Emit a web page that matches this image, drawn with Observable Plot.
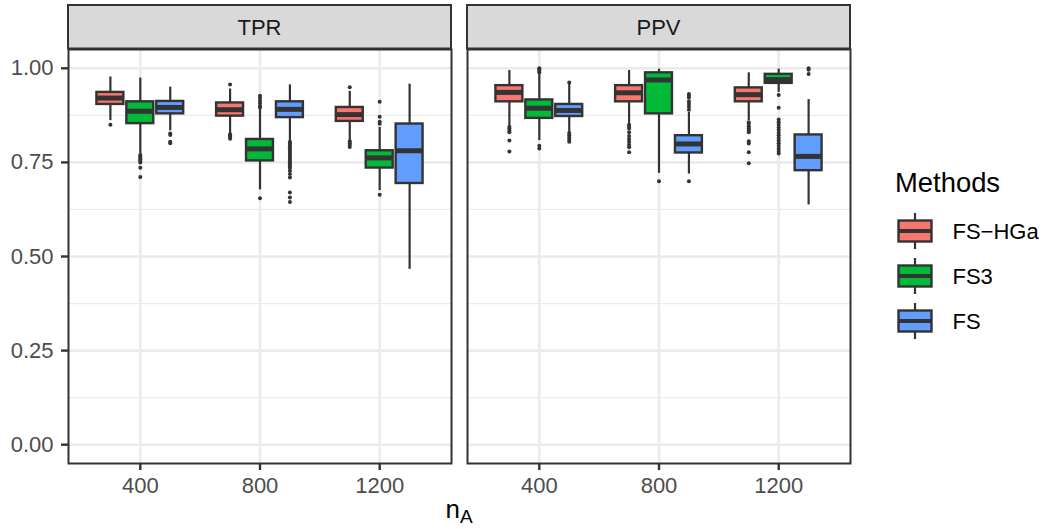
<!DOCTYPE html>
<html>
<head>
<meta charset="utf-8">
<script src="https://cdn.jsdelivr.net/npm/d3@7"></script>
<script src="https://cdn.jsdelivr.net/npm/@observablehq/plot@0.6"></script>
<style>
  html, body { margin: 0; padding: 0; background: #fff; }
  #wrap { position: relative; width: 1046px; height: 529px; font-family: "Liberation Sans", Arial, Helvetica, sans-serif; }
  #wrap svg { display: block; }
  #legend { position: absolute; left: 0; top: 0; pointer-events: none; }
</style>
</head>
<body>
<div id="wrap"></div>
<script>
// ---- data ----
const panels = ["TPR", "PPV"];
const sizes = ["400", "800", "1200"];
const methods = ["FS-HGa", "FS3", "FS"];
const methodLabels = ["FS\u2212HGa", "FS3", "FS"];
const colors = ["#F8766D", "#00BA38", "#619CFF"];
const yTicks = [0, 0.25, 0.5, 0.75, 1];
const yMinor = [0.125, 0.375, 0.625, 0.875];
const yTickLabels = ["0.00", "0.25", "0.50", "0.75", "1.00"];

// order: 400(FS-HGa, FS3, FS), 800(...), 1200(...)
const tprLow  = [0.861, 0.772, 0.834, 0.826, 0.677, 0.808, 0.808, 0.675, 0.466];
const tprQ1   = [0.904, 0.853, 0.879, 0.873, 0.754, 0.869, 0.859, 0.735, 0.694];
const tprMed  = [0.921, 0.886, 0.896, 0.890, 0.786, 0.891, 0.877, 0.762, 0.781];
const tprQ3   = [0.936, 0.911, 0.912, 0.908, 0.811, 0.911, 0.896, 0.781, 0.852];
const tprHigh = [0.977, 0.974, 0.950, 0.945, 0.892, 0.956, 0.939, 0.843, 0.958];

const ppvLow  = [0.848, 0.808, 0.830, 0.852, 0.721, 0.719, 0.861, 0.936, 0.637];
const ppvQ1   = [0.911, 0.867, 0.872, 0.911, 0.879, 0.775, 0.911, 0.960, 0.728];
const ppvMed  = [0.936, 0.894, 0.888, 0.935, 0.969, 0.799, 0.930, 0.970, 0.766];
const ppvQ3   = [0.954, 0.916, 0.904, 0.954, 0.988, 0.821, 0.948, 0.984, 0.823];
const ppvHigh = [0.994, 0.985, 0.958, 0.994, 0.998, 0.883, 0.988, 0.998, 0.917];

const tprOutliers = [
  [0.850],
  [0.770, 0.766, 0.762, 0.758, 0.754, 0.750, 0.736, 0.711],
  [0.827, 0.823, 0.805, 0.801],
  [0.957, 0.825, 0.821, 0.817, 0.813],
  [0.927, 0.921, 0.914, 0.907, 0.900, 0.896, 0.655],
  [0.805, 0.800, 0.795, 0.790, 0.785, 0.780, 0.775, 0.770, 0.765, 0.760, 0.755, 0.750, 0.745, 0.740, 0.735, 0.728, 0.719, 0.710, 0.670, 0.657, 0.645],
  [0.950, 0.806, 0.801, 0.796, 0.791],
  [0.911, 0.871, 0.858, 0.853, 0.664],
  []
];
const ppvOutliers = [
  [0.845, 0.840, 0.835, 0.830, 0.808, 0.779],
  [1.000, 0.997, 0.993, 0.989, 0.794, 0.787],
  [0.962, 0.828, 0.822, 0.816, 0.810, 0.805],
  [0.850, 0.845, 0.840, 0.830, 0.820, 0.812, 0.805, 0.797, 0.790, 0.777],
  [0.700],
  [0.932, 0.927, 0.922, 0.912, 0.905, 0.898, 0.890, 0.700],
  [0.857, 0.852, 0.846, 0.840, 0.835, 0.830, 0.806, 0.800, 0.777, 0.748],
  [0.929, 0.895, 0.864, 0.857, 0.850, 0.843, 0.836, 0.829, 0.822, 0.815, 0.808, 0.801, 0.794, 0.787, 0.780, 0.774],
  [1.000, 0.996, 0.985]
];

// ---- tables built from the arrays ----
const stats = {
  TPR: {low: tprLow, q1: tprQ1, med: tprMed, q3: tprQ3, high: tprHigh, out: tprOutliers},
  PPV: {low: ppvLow, q1: ppvQ1, med: ppvMed, q3: ppvQ3, high: ppvHigh, out: ppvOutliers}
};
const dodge = 0.25, half = 0.1125;
const rows = [], outRows = [];
panels.forEach(p => sizes.forEach((s, si) => methods.forEach((m, mi) => {
  const k = si * 3 + mi, S = stats[p];
  const pos = si + 1 + (mi - 1) * dodge;
  rows.push({panel: p, size: s, method: m, pos, low: S.low[k], q1: S.q1[k], med: S.med[k], q3: S.q3[k], high: S.high[k]});
  S.out[k].forEach(v => outRows.push({panel: p, method: m, pos, v}));
})));

const FONT = '"Liberation Sans", Arial, Helvetica, sans-serif';
const DARK = "#333333";

const chart = Plot.plot({
  width: 1046,
  height: 529,
  marginLeft: 68,
  marginRight: 195,
  marginTop: 49,
  marginBottom: 66,
  style: {fontFamily: FONT, background: "white", overflow: "visible"},
  fx: {domain: panels, axis: null, paddingInner: 0.04, paddingOuter: 0},
  x: {domain: [0.4, 3.6], axis: null},
  y: {domain: [-0.05, 1.05], axis: null},
  color: {domain: methods, range: colors},
  marks: [
    Plot.gridY(yMinor, {stroke: "#EBEBEB", strokeOpacity: 1, strokeWidth: 1.3}),
    Plot.gridY(yTicks, {stroke: "#EBEBEB", strokeOpacity: 1, strokeWidth: 2.6}),
    Plot.gridX([1, 2, 3], {stroke: "#EBEBEB", strokeOpacity: 1, strokeWidth: 2.6}),
    Plot.axisY(yTicks, {
      tickFormat: (d, i) => yTickLabels[yTicks.indexOf(d)],
      tickSize: 7, tickPadding: 8, fontSize: 22, stroke: DARK, strokeWidth: 2.4,
      fill: "#4D4D4D", label: null
    }),
    Plot.axisX([1, 2, 3], {
      tickFormat: d => sizes[d - 1],
      tickSize: 7, tickPadding: 7, fontSize: 22, stroke: DARK, strokeWidth: 2.4,
      fill: "#4D4D4D", label: null
    }),
    Plot.ruleX(rows, {fx: "panel", x: "pos", y1: "low", y2: "high", stroke: DARK, strokeWidth: 2.2}),
    Plot.rect(rows, {fx: "panel", x1: d => d.pos - half, x2: d => d.pos + half, y1: "q1", y2: "q3",
      fill: "method", stroke: DARK, strokeWidth: 2.4}),
    Plot.ruleY(rows, {fx: "panel", y: "med", x1: d => d.pos - half, x2: d => d.pos + half, stroke: DARK, strokeWidth: 5}),
    Plot.dot(outRows, {fx: "panel", x: "pos", y: "v", r: 2, fill: DARK, stroke: null}),
    Plot.frame({stroke: DARK, strokeWidth: 2})
  ]
});

document.getElementById("wrap").appendChild(chart);

// ---- strips and axis title ----
const svg = d3.select(chart);
svg.selectAll('g[aria-label="y-axis tick label"], g[aria-label="x-axis tick label"]').attr("fill", "#4D4D4D");
svg.selectAll('g[aria-label="y-axis tick"], g[aria-label="x-axis tick"]').attr("stroke", DARK);

const fx = chart.scale("fx");
const bw = fx.bandwidth;
const fxPos = p => (fx.apply ? fx.apply(p) : fx.range[0] + panels.indexOf(p) * fx.step);
const stripTop = 5, stripBottom = 48.5;
const strips = svg.append("g");
panels.forEach(p => {
  const x0 = fxPos(p);
  strips.append("rect").attr("x", x0).attr("y", stripTop).attr("width", bw).attr("height", stripBottom - stripTop)
    .attr("fill", "#D9D9D9").attr("stroke", DARK).attr("stroke-width", 2);
  strips.append("text").attr("x", x0 + bw / 2).attr("y", 35).attr("text-anchor", "middle")
    .attr("font-size", 22).attr("font-family", FONT).attr("fill", "#1A1A1A").text(p);
});

const xLeft = fxPos(panels[0]), xRight = fxPos(panels[1]) + bw;
const title = svg.append("text").attr("x", (xLeft + xRight) / 2).attr("y", 518)
  .attr("text-anchor", "middle").attr("font-family", FONT).attr("fill", "#000");
title.append("tspan").attr("font-size", 26).text("n");
title.append("tspan").attr("font-size", 19).attr("dy", 5).text("A");

// ---- legend ----
const leg = d3.select("#wrap").append("svg").attr("id", "legend").attr("width", 1046).attr("height", 529);
leg.append("text").attr("x", 895).attr("y", 192).attr("font-size", 27.4).attr("font-family", FONT)
  .attr("fill", "#000").text("Methods");
methods.forEach((m, i) => {
  const cy = 231 + i * 45;
  const g = leg.append("g");
  g.append("line").attr("x1", 915).attr("x2", 915).attr("y1", cy - 18).attr("y2", cy + 18)
    .attr("stroke", DARK).attr("stroke-width", 2.2);
  g.append("rect").attr("x", 898.5).attr("y", cy - 10.5).attr("width", 33).attr("height", 21)
    .attr("fill", colors[i]).attr("stroke", DARK).attr("stroke-width", 2.4);
  g.append("line").attr("x1", 898.5).attr("x2", 931.5).attr("y1", cy).attr("y2", cy)
    .attr("stroke", DARK).attr("stroke-width", 4);
  g.append("text").attr("x", 952.5).attr("y", cy).attr("dy", "0.36em").attr("font-size", 22)
    .attr("font-family", FONT).attr("fill", "#000").text(methodLabels[i]);
});
</script>
</body>
</html>
